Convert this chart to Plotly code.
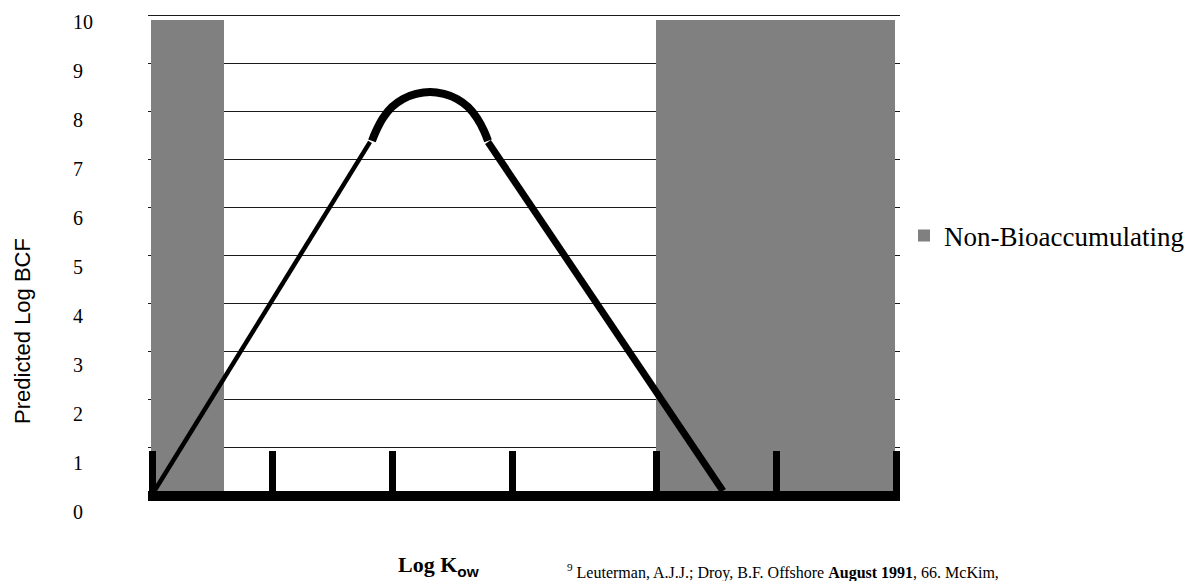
import plotly.graph_objects as go

# ---- data ----
y_grid_vals = [1, 2, 3, 4, 5, 6, 7, 8, 9, 10]
y_label_vals = [0, 1, 2, 3, 4, 5, 6, 7, 8, 9, 10]
y_label_text = ["0", "1", "2", "3", "4", "5", "6", "7", "8", "9", "10"]
x_tick_vals = [0, 1, 2, 3, 4.2, 5.2, 6.2]

band_x = [0.296, 5.196]        # centres of non-bioaccumulating bands (Log Kow)
band_width = [0.608, 1.99]
band_height = [9.92, 9.92]

left_x = [0.025, 1.817]
left_y = [0.12, 7.374]
arc_x = [1.833, 1.867, 1.925, 2.0, 2.092, 2.2, 2.317, 2.433, 2.542, 2.633, 2.708, 2.767, 2.8]
arc_y = [7.395, 7.603, 7.874, 8.103, 8.270, 8.374, 8.416, 8.374, 8.270, 8.103, 7.874, 7.603, 7.395]
right_x = [2.8, 4.758]
right_y = [7.374, 0.1]

W, H = 1186, 581
ML, MR, MT, MB = 10, 286, 10, 50
PW = W - ML - MR
PH = H - MT - MB


def px_x(p):
    return (p - ML) / PW


def px_y(p):
    return (H - MB - p) / PH


serif = "Liberation Serif"
sans = "Liberation Sans"

fig = go.Figure()

fig.add_trace(go.Bar(
    x=band_x, y=band_height, width=band_width,
    marker=dict(color="#808080", line=dict(width=0)),
    name="Non-Bioaccumulating", showlegend=True, hoverinfo="skip",
))
fig.add_trace(go.Scatter(x=left_x, y=left_y, mode="lines",
                         line=dict(color="black", width=4.5), showlegend=False))
fig.add_trace(go.Scatter(x=arc_x, y=arc_y, mode="lines",
                         line=dict(color="black", width=8, shape="spline"),
                         showlegend=False))
fig.add_trace(go.Scatter(x=right_x, y=right_y, mode="lines",
                         line=dict(color="black", width=7), showlegend=False))

# helper traces for the label axis and title axis
fig.add_trace(go.Scatter(x=[None], y=[None], xaxis="x2", yaxis="y2",
                         showlegend=False, hoverinfo="skip"))
fig.add_trace(go.Scatter(x=[None], y=[None], xaxis="x2", yaxis="y3",
                         showlegend=False, hoverinfo="skip"))

fig.update_layout(
    width=W, height=H,
    margin=dict(l=ML, r=MR, t=MT, b=MB, autoexpand=False),
    paper_bgcolor="white",
    plot_bgcolor="rgba(0,0,0,0)",
    bargap=0,
    xaxis=dict(
        domain=[px_x(148), 1],
        range=[-0.0333, 6.2333],
        showgrid=False, zeroline=False,
        showline=True, linecolor="black", linewidth=10,
        ticks="inside", ticklen=40, tickwidth=7, tickcolor="black",
        tickvals=x_tick_vals, showticklabels=False,
        anchor="y",
    ),
    yaxis=dict(
        domain=[px_y(491), px_y(14)],
        range=[0.1, 10.04],
        tickvals=y_grid_vals, showticklabels=False, ticks="",
        showgrid=True, gridcolor="#1a1a1a", gridwidth=1.3,
        zeroline=False, showline=False,
        anchor="x",
    ),
    xaxis2=dict(
        domain=[px_x(12), px_x(140)], visible=False, range=[0, 1],
        anchor="y2",
    ),
    yaxis2=dict(
        domain=[px_y(520), px_y(12)],
        range=[(510 - 518) / 49, (510 - 10) / 49],
        anchor="free", position=px_x(72), side="right",
        tickvals=y_label_vals, ticktext=y_label_text, ticks="",
        showgrid=False, zeroline=False, showline=False,
        tickfont=dict(family=serif, size=20, color="black"),
    ),
    yaxis3=dict(
        domain=[px_y(426), px_y(236)],
        range=[0, 1],
        anchor="free", position=px_x(42), side="left",
        showticklabels=False, ticks="", showgrid=False,
        zeroline=False, showline=False,
        title=dict(text="Predicted Log BCF", standoff=4,
                   font=dict(family=sans, size=22, color="black")),
    ),
    legend=dict(
        x=px_x(904), y=px_y(236), xanchor="left", yanchor="middle",
        font=dict(family=serif, size=27, color="black"),
        bgcolor="rgba(0,0,0,0)",
    ),
    annotations=[
        dict(
            xref="paper", yref="paper", x=px_x(438), y=px_y(566),
            xanchor="center", yanchor="middle", showarrow=False,
            text="<b>Log K<sub><span style=\"font-family:Liberation Sans\">ow</span></sub></b>",
            font=dict(family=serif, size=22, color="black"),
        ),
        dict(
            xref="paper", yref="paper", x=px_x(565), y=px_y(571),
            xanchor="left", yanchor="middle", showarrow=False,
            text="<sup>9</sup> Leuterman, A.J.J.; Droy, B.F. Offshore <b>August 1991</b>, 66. McKim,",
            font=dict(family=serif, size=16, color="black"),
        ),
    ],
)

fig.write_html(
    "out.html",
    config={"displayModeBar": False},
    post_script="document.body.style.margin='0px';document.body.style.overflow='hidden';",
)
